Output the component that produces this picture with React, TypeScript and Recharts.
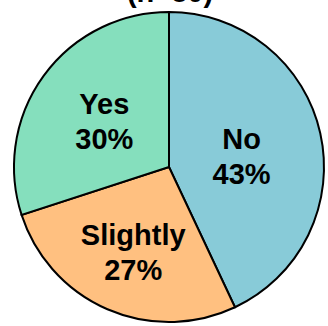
import React from 'react';
import { PieChart, Pie, Cell } from 'recharts';

const categories = ['No', 'Slightly', 'Yes'];
const percentages = [43, 27, 30];
const sliceColors = ['#88CBD8', '#FFC080', '#85DFBD'];
const title = '(n=80)';

// small nudges so labels sit where the original put them
const labelShift: Record<string, [number, number]> = {
  No: [-3, 6],
  Slightly: [-5, 14],
  Yes: [-2, 0]
};

const data = categories.map((name, i) => ({ name, value: percentages[i] }));

const RADIAN = Math.PI / 180;

function SliceLabel(props: any) {
  const { cx, cy, midAngle, outerRadius, index } = props;
  const name = categories[index];
  const r = outerRadius * 0.5;
  const [sx, sy] = labelShift[name] || [0, 0];
  const x = cx + r * Math.cos(-midAngle * RADIAN) + sx;
  const y = cy + r * Math.sin(-midAngle * RADIAN) + sy;
  return (
    <text
      x={x}
      y={y}
      textAnchor="middle"
      fill="#000"
      fontFamily="'Liberation Sans', Arial, sans-serif"
      fontWeight="bold"
      fontSize={29}
    >
      <tspan x={x} dy={-7}>{name}</tspan>
      <tspan x={x} dy={35}>{percentages[index]}%</tspan>
    </text>
  );
}

export default function App() {
  return (
    <div style={{ position: 'relative', width: 328, height: 326, background: '#fff', overflow: 'hidden' }}>
      <style>{'body{margin:0}'}</style>
      <PieChart width={328} height={326} margin={{ top: 0, right: 0, bottom: 0, left: 0 }}>
        <Pie
          data={data}
          dataKey="value"
          nameKey="name"
          cx={169}
          cy={167}
          outerRadius={155}
          startAngle={90}
          endAngle={-270}
          stroke="#000"
          strokeWidth={2}
          label={SliceLabel}
          labelLine={false}
          isAnimationActive={false}
        >
          {data.map((d, i) => (
            <Cell key={d.name} fill={sliceColors[i]} />
          ))}
        </Pie>
      </PieChart>
      <svg width={328} height={20} style={{ position: 'absolute', left: 0, top: 0 }}>
        <text
          x={170}
          y={2}
          textAnchor="middle"
          fontFamily="'Liberation Sans', Arial, sans-serif"
          fontWeight="bold"
          fontSize={29}
          fill="#000"
        >
          {title}
        </text>
      </svg>
    </div>
  );
}
